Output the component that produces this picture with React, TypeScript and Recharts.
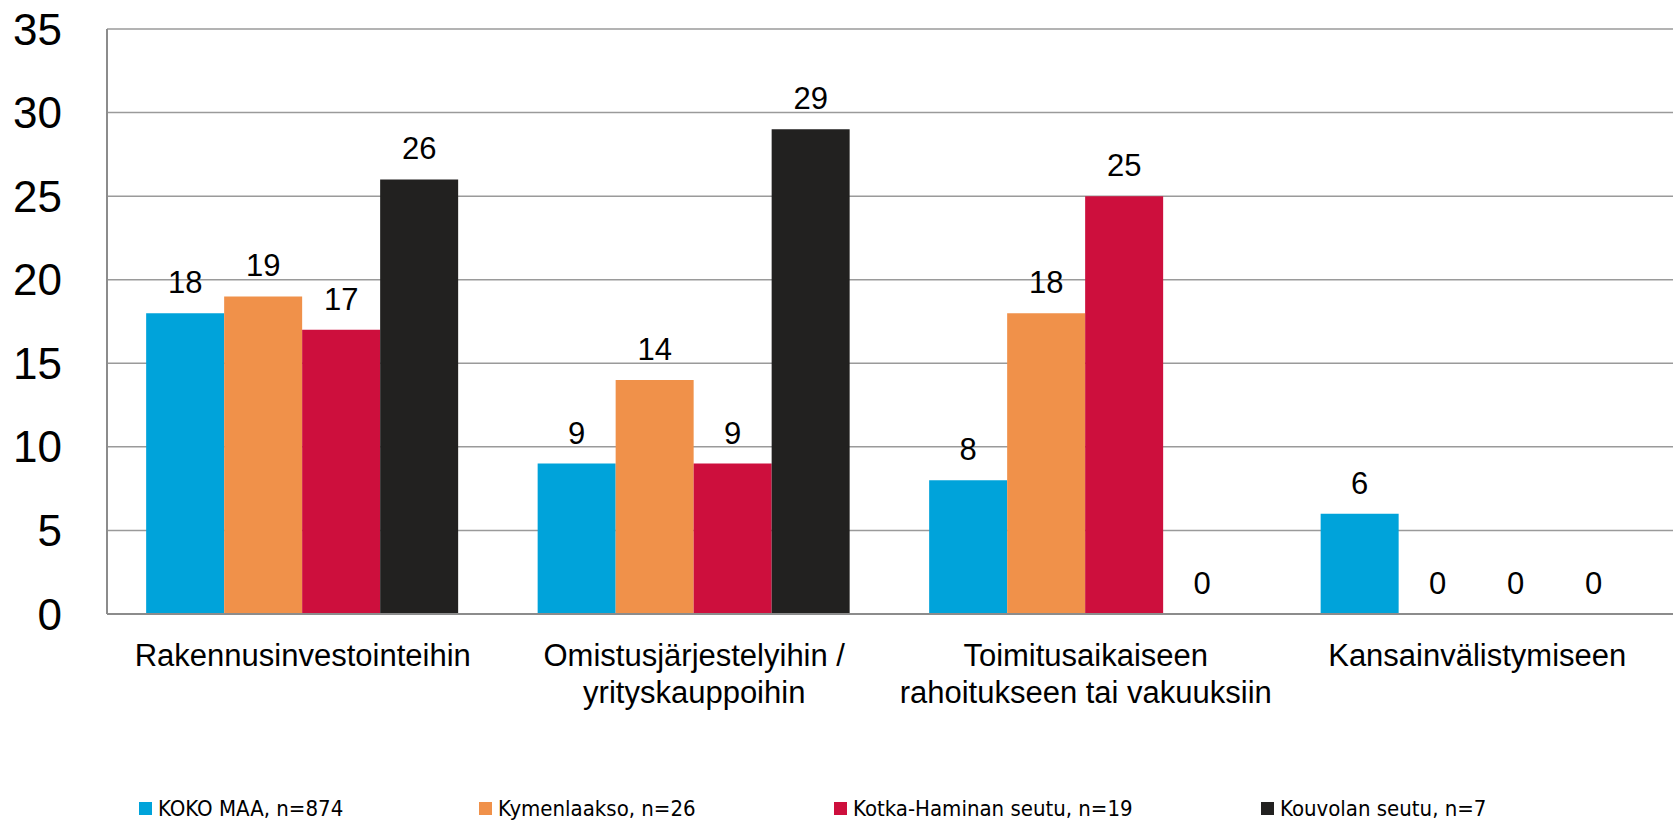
import { BarChart, Bar, XAxis, YAxis, CartesianGrid, Legend, LabelList } from 'recharts';

const categories = [
  'Rakennusinvestointeihin',
  'Omistusjärjestelyihin /\nyrityskauppoihin',
  'Toimitusaikaiseen\nrahoitukseen tai vakuuksiin',
  'Kansainvälistymiseen',
];
const kokoMaa = [18, 9, 8, 6];
const kymenlaakso = [19, 14, 18, 0];
const kotkaHamina = [17, 9, 25, 0];
const kouvola = [26, 29, 0, 0];
const yTicks = [0, 5, 10, 15, 20, 25, 30, 35];

const series = [
  { key: 'koko', name: 'KOKO MAA, n=874', color: '#00A3DA' },
  { key: 'kymi', name: 'Kymenlaakso, n=26', color: '#F0914A' },
  { key: 'kotka', name: 'Kotka-Haminan seutu, n=19', color: '#CD0F3D' },
  { key: 'kouvola', name: 'Kouvolan seutu, n=7', color: '#222120' },
];

const data = categories.map((name, i) => ({
  name,
  koko: kokoMaa[i],
  kymi: kymenlaakso[i],
  kotka: kotkaHamina[i],
  kouvola: kouvola[i],
}));

const FONT = "'Liberation Sans', Arial, sans-serif";
const legendWidths = [340, 355, 427, 300];

const CategoryTick = (props: any) => {
  const { x, y, payload } = props;
  const lines = String(payload.value).split('\n');
  return (
    <text x={x} y={y} textAnchor="middle" fontFamily={FONT} fontSize={31} fill="#000">
      {lines.map((line, i) => (
        <tspan key={i} x={x} dy={i === 0 ? 50 : 37}>
          {line}
        </tspan>
      ))}
    </text>
  );
};

// value label above each bar, also drawn for zero-height bars
const ValueLabel = (props: any) => {
  const { x, y, width, value } = props;
  if (value === undefined || value === null) return null;
  return (
    <text x={Number(x) + Number(width) / 2} y={Number(y) - 20} textAnchor="middle" fontFamily={FONT} fontSize={31} fill="#000">
      {value}
    </text>
  );
};

const renderLegend = () => (
  <div style={{ display: 'flex', height: 28, alignItems: 'center', paddingLeft: 139 }}>
    {series.map((s, i) => (
      <div key={s.key} style={{ width: legendWidths[i], display: 'flex', alignItems: 'center' }}>
        <span style={{ width: 13, height: 13, background: s.color, display: 'inline-block', marginRight: 6 }} />
        <span
          style={{
            fontFamily: "'DejaVu Sans Condensed', 'DejaVu Sans', sans-serif",
            fontStretch: 'condensed',
            fontSize: 22,
            color: '#000',
          }}
        >
          {s.name}
        </span>
      </div>
    ))}
  </div>
);

export default function App() {
  return (
    <div style={{ position: 'absolute', left: 0, top: 0, background: '#fff' }}>
      <BarChart
        width={1673}
        height={822}
        data={data}
        margin={{ top: 29, right: 0, bottom: 0, left: 0 }}
        barCategoryGap="10%"
        barGap={0}
      >
        <CartesianGrid vertical={false} stroke="#9a9a9a" strokeWidth={1.5} />
        <XAxis
          dataKey="name"
          height={180}
          tickLine={false}
          tickSize={0}
          interval={0}
          stroke="#8c8c8c"
          strokeWidth={2}
          tick={<CategoryTick />}
        />
        <YAxis
          width={107}
          domain={[0, 35]}
          ticks={yTicks}
          tickLine={false}
          tickSize={0}
          tickMargin={45}
          stroke="#8c8c8c"
          strokeWidth={2}
          tick={{ fontSize: 44, fill: '#000', fontFamily: FONT }}
          interval={0}
        />
        <Legend verticalAlign="bottom" content={renderLegend} />
        {series.map((s) => (
          <Bar
            key={s.key}
            dataKey={s.key}
            name={s.name}
            fill={s.color}
            minPointSize={(v: number) => (v === 0 ? 0.001 : 0)}
            isAnimationActive={false}
          >
            <LabelList dataKey={s.key} content={<ValueLabel />} />
          </Bar>
        ))}
      </BarChart>
    </div>
  );
}
